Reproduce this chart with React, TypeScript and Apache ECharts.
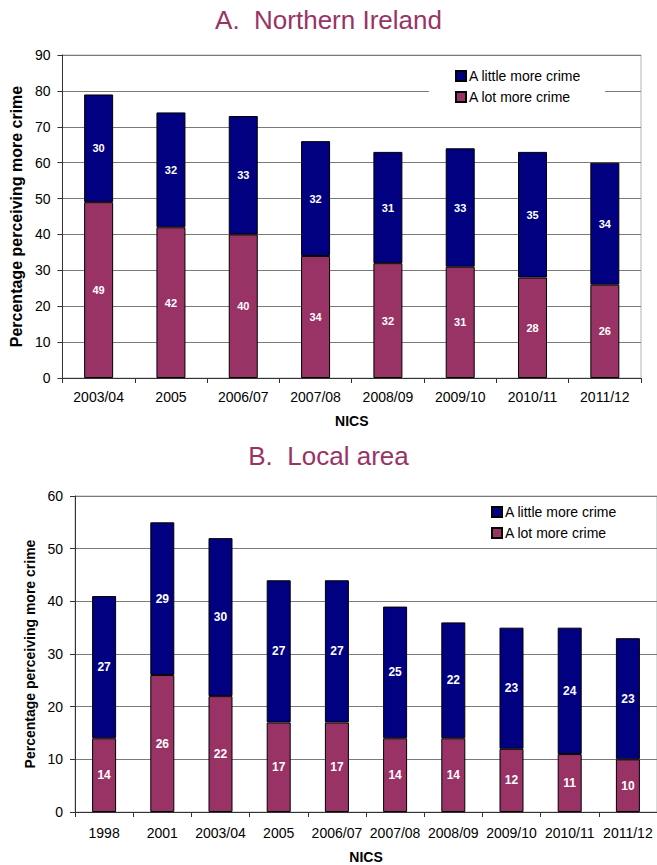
import React, { useEffect, useRef } from "react";
import * as echarts from "echarts";

// Panel A: Northern Ireland
const niYears = ["2003/04", "2005", "2006/07", "2007/08", "2008/09", "2009/10", "2010/11", "2011/12"];
const niLotMore = [49, 42, 40, 34, 32, 31, 28, 26];
const niLittleMore = [30, 32, 33, 32, 31, 33, 35, 34];

// Panel B: Local area
const laYears = ["1998", "2001", "2003/04", "2005", "2006/07", "2007/08", "2008/09", "2009/10", "2010/11", "2011/12"];
const laLotMore = [14, 26, 22, 17, 17, 14, 14, 12, 11, 10];
const laLittleMore = [27, 29, 30, 27, 27, 25, 22, 23, 24, 23];

const LITTLE = "A little more crime";
const LOT = "A lot more crime";
const NAVY = "#000080";
const PLUM = "#993366";
const FONT = "'Liberation Sans', Arial, sans-serif";
const YNAME = "Percentage perceiving more crime";

function xAxisFor(gridIndex: number, data: string[], margin: number, nameGap: number) {
  return {
    type: "category",
    gridIndex,
    data,
    name: "NICS",
    nameLocation: "middle",
    nameGap,
    nameTextStyle: { fontFamily: FONT, fontSize: 14, fontWeight: "bold", color: "#000" },
    axisLine: { show: true, lineStyle: { color: "#333", width: 1 } },
    axisTick: { show: true, length: 5, lineStyle: { color: "#333" } },
    axisLabel: { margin, fontFamily: FONT, fontSize: 14, color: "#000", interval: 0 },
    splitLine: { show: false },
  };
}

function yAxisFor(gridIndex: number, max: number, nameSize: number, nameGap: number) {
  return {
    type: "value",
    gridIndex,
    min: 0,
    max,
    interval: 10,
    name: YNAME,
    nameLocation: "middle",
    nameGap,
    nameTextStyle: { fontFamily: FONT, fontSize: nameSize, fontWeight: "bold", color: "#000" },
    axisLine: { show: true, lineStyle: { color: "#333", width: 1 } },
    axisTick: { show: true, length: 5, lineStyle: { color: "#333" } },
    axisLabel: { margin: 12, fontFamily: FONT, fontSize: 14, color: "#000" },
    splitLine: { show: true, lineStyle: { color: "#7a7a7a", width: 1 } },
  };
}

function barSeries(name: string, color: string, data: number[], axisIndex: number, barWidth: number, labelSize: number) {
  return {
    type: "bar",
    name,
    stack: "total" + axisIndex,
    xAxisIndex: axisIndex,
    yAxisIndex: axisIndex,
    data,
    barWidth,
    itemStyle: { color, borderColor: "#000", borderWidth: 1 },
    label: {
      show: true,
      position: "inside",
      color: "#fff",
      fontFamily: FONT,
      fontWeight: "bold",
      fontSize: labelSize,
      formatter: "{c}",
    },
  };
}

function legendFor(left: number, top: number, padding: number[]) {
  return {
    orient: "vertical",
    left,
    top,
    data: [LITTLE, LOT],
    icon: "rect",
    itemWidth: 10,
    itemHeight: 10,
    itemGap: 7,
    padding,
    backgroundColor: "#fff",
    selectedMode: false,
    textStyle: { fontFamily: FONT, fontSize: 14, color: "#000", padding: [0, 0, 0, -2] },
  };
}

export default function App() {
  const ref = useRef<HTMLDivElement>(null);

  useEffect(() => {
    document.body.style.margin = "0";
    if (!ref.current) return;
    const chart = echarts.init(ref.current, null, { renderer: "svg" });
    chart.setOption({
      animation: false,
      backgroundColor: "#fff",
      title: [
        {
          text: "A.  Northern Ireland",
          left: "center",
          top: 7,
          padding: 0,
          textStyle: { fontFamily: FONT, fontSize: 26, fontWeight: "normal", color: PLUM },
        },
        {
          text: "B.  Local area",
          left: "center",
          top: 443,
          padding: 0,
          textStyle: { fontFamily: FONT, fontSize: 26, fontWeight: "normal", color: PLUM },
        },
      ],
      legend: [legendFor(429, 64, [5, 24, 5, 26]), legendFor(465, 500, [5, 20, 5, 26])],
      grid: [
        { left: 62, top: 55, width: 579, height: 323, show: true, borderColor: "#b5b5b5", borderWidth: 1, backgroundColor: "transparent" },
        { left: 75, top: 496, width: 586, height: 316, show: true, borderColor: "#b5b5b5", borderWidth: 1, backgroundColor: "transparent" },
      ],
      xAxis: [xAxisFor(0, niYears, 12, 36), xAxisFor(1, laYears, 14, 38)],
      yAxis: [yAxisFor(0, 90, 16, 38), yAxisFor(1, 60, 14, 35)],
      series: [
        barSeries(LOT, PLUM, niLotMore, 0, 29, 11),
        barSeries(LITTLE, NAVY, niLittleMore, 0, 29, 11),
        barSeries(LOT, PLUM, laLotMore, 1, 24, 12),
        barSeries(LITTLE, NAVY, laLittleMore, 1, 24, 12),
      ],
    });
    return () => chart.dispose();
  }, []);

  return <div ref={ref} style={{ width: 657, height: 865 }} />;
}
